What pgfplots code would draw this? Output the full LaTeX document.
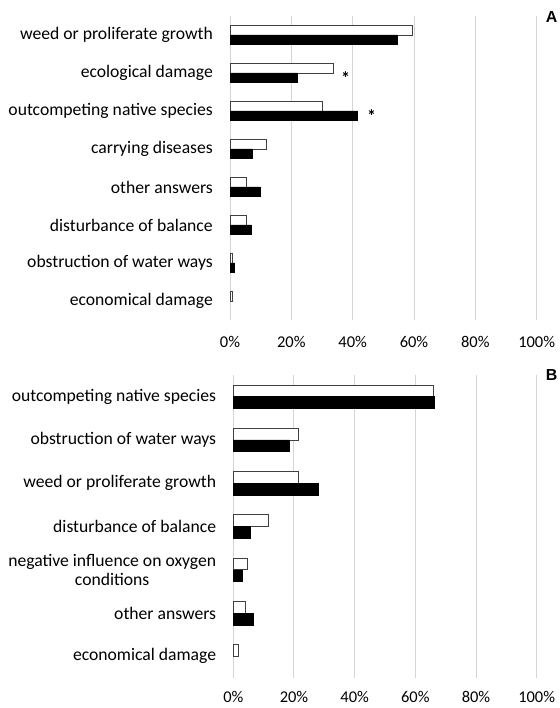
\documentclass[border=0pt]{standalone}
\usepackage{fontspec}
\setmainfont{Carlito}
\newfontfamily\arialf{Liberation Sans}
\usepackage{pgfplots}
\pgfplotsset{compat=1.18}
\newcommand{\tickfont}{\fontsize{16.5}{20}\selectfont}
\newcommand{\catfont}{\fontsize{17.7}{19.5}\selectfont}
\begin{document}
\begin{tikzpicture}
\useasboundingbox (0,0) rectangle (560bp,708bp);
\pgfplotsset{
  panel/.style={
    scale only axis, anchor=south west, xbar,
    xmin=0, xmax=100,
    xtick={0,20,40,60,80,100},
    xticklabels={0\%,20\%,40\%,60\%,80\%,100\%},
    xmajorgrids, grid style={draw=black!17, line width=1bp},
    axis line style={draw=none}, major tick length=0pt, tick style={draw=none},
    xticklabel style={font=\tickfont, anchor=base, inner sep=0pt, yshift=-28bp},
    yticklabel style={font=\catfont, anchor=east, inner sep=0pt, xshift=-17bp, align=center},
    clip=false,
  },
  whitebar/.style={fill=white, draw=black!75, line width=0.8bp},
  blackbar/.style={fill=black, draw=black, line width=0.5bp},
}
% Panel A
\begin{axis}[panel, at={(230bp,388bp)}, width=306.7bp, height=304bp,
  ymin=-0.5, ymax=7.5, ytick={0,...,7},
  yticklabels={economical damage, obstruction of water ways, disturbance of balance, other answers, carrying diseases, outcompeting native species, ecological damage, weed or proliferate growth}]
\addplot[whitebar, bar width=9.6bp, bar shift=4.8bp] coordinates {
  (59.6,7) (33.6,6) (30.2,5) (12.0,4) (5.3,3) (5.3,2) (0.8,1) (0.8,0)};
\addplot[blackbar, bar width=9.6bp, bar shift=-4.8bp] coordinates {
  (54.6,7) (22.0,6) (41.4,5) (7.3,4) (9.7,3) (7.0,2) (1.5,1)};
\node[font=\bfseries\fontsize{18}{20}\selectfont, yshift=-5.5bp] at (axis cs:37.7,6) {*};
\node[font=\bfseries\fontsize{18}{20}\selectfont, yshift=-5bp] at (axis cs:46.2,5) {*};
\end{axis}
% Panel B
\begin{axis}[panel, at={(233.3bp,30bp)}, width=303.4bp, height=303bp,
  ymin=-0.5, ymax=6.5, ytick={0,...,6},
  xticklabel style={yshift=3bp},
  yticklabels={economical damage, other answers, {negative influence on oxygen\\conditions}, disturbance of balance, weed or proliferate growth, obstruction of water ways, outcompeting native species}]
\addplot[whitebar, bar width=11.7bp, bar shift=5.85bp] coordinates {
  (66.0,6) (21.6,5) (21.6,4) (11.5,3) (4.8,2) (4.1,1) (1.8,0)};
\addplot[blackbar, bar width=11.7bp, bar shift=-5.85bp] coordinates {
  (66.1,6) (18.5,5) (28.0,4) (5.7,3) (3.0,2) (6.6,1)};
\end{axis}
\node[font=\arialf\bfseries\fontsize{16}{18}\selectfont] at (551.5bp,690.5bp) {A};
\node[font=\arialf\bfseries\fontsize{16}{18}\selectfont] at (551.5bp,333bp) {B};
\end{tikzpicture}
\end{document}
